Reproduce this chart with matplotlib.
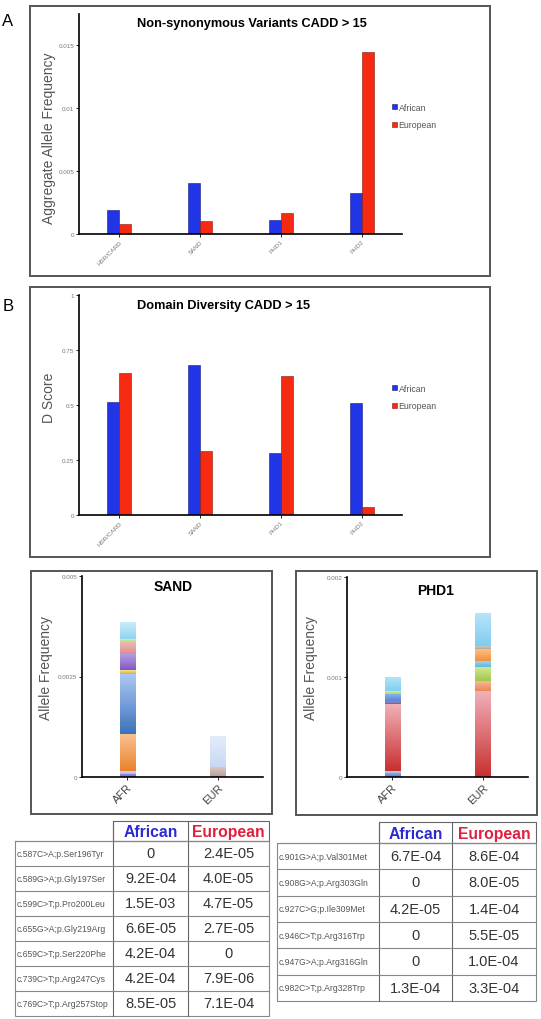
import numpy as np
import matplotlib
matplotlib.use("Agg")
import matplotlib.pyplot as plt
from matplotlib.patches import Rectangle
from matplotlib.colors import LinearSegmentedColormap

plt.rcParams['font.family'] = ['Liberation Sans', 'DejaVu Sans']

# ---------------- data ----------------
domains = ["HSR/CARD", "SAND", "PHD1", "PHD2"]
agg_afr = [0.0019, 0.00405, 0.0011, 0.0033]
agg_eur = [0.0008, 0.0010, 0.0017, 0.01445]
d_afr = [0.512, 0.68, 0.28, 0.51]
d_eur = [0.645, 0.29, 0.63, 0.035]
agg_ticks = [0, 0.005, 0.01, 0.015]
agg_ticklabels = ["0", "0.005", "0.01", "0.015"]
d_ticks = [0, 0.25, 0.5, 0.75, 1]
d_ticklabels = ["0", "0.25", "0.5", "0.75", "1"]

pops = ["AFR", "EUR"]
sand_afr_seg = [8.5e-5, 6.6e-5, 9.2e-4, 1.5e-3, 8.0e-5, 4.2e-4, 2.9e-4, 8.0e-5, 4.2e-4]
sand_eur_seg = [2.4e-4, 7.9e-4]
phd1_afr_seg = [4.2e-5, 2.1e-5, 6.7e-4, 2.7e-5, 7.3e-5, 3.0e-5, 1.4e-4]
phd1_eur_seg = [8.6e-4, 1.0e-4, 1.4e-4, 6.0e-5, 1.2e-4, 2.7e-5, 3.3e-4]
sand_ticks = [0, 0.0025, 0.005]
sand_ticklabels = ["0", "0.0025", "0.005"]
phd1_ticks = [0, 0.001, 0.002]
phd1_ticklabels = ["0", "0.001", "0.002"]

sand_variants = ["c.587C>A;p.Ser196Tyr", "c.589G>A;p.Gly197Ser", "c.599C>T;p.Pro200Leu",
                 "c.655G>A;p.Gly219Arg", "c.659C>T;p.Ser220Phe", "c.739C>T;p.Arg247Cys",
                 "c.769C>T;p.Arg257Stop"]
sand_tab_afr = ["0", "9.2E-04", "1.5E-03", "6.6E-05", "4.2E-04", "4.2E-04", "8.5E-05"]
sand_tab_eur = ["2.4E-05", "4.0E-05", "4.7E-05", "2.7E-05", "0", "7.9E-06", "7.1E-04"]
phd1_variants = ["c.901G>A;p.Val301Met", "c.908G>A;p.Arg303Gln", "c.927C>G;p.Ile309Met",
                 "c.946C>T;p.Arg316Trp", "c.947G>A;p.Arg316Gln", "c.982C>T;p.Arg328Trp"]
phd1_tab_afr = ["6.7E-04", "0", "4.2E-05", "0", "0", "1.3E-04"]
phd1_tab_eur = ["8.6E-04", "8.0E-05", "1.4E-04", "5.5E-05", "1.0E-04", "3.3E-04"]

# segment colours (bottom, top) for the gradient fills
sand_afr_col = [("#6a78d0", "#8a98e0"), ("#c0b8e0", "#d8d0f0"), ("#e8842c", "#fcc090"),
                ("#3a74bc", "#b0c8f4"), ("#d8b040", "#f0e090"), ("#8058c0", "#b8a0e8"),
                ("#d89090", "#f0b8b0"), ("#a8e090", "#d0f8c0"), ("#90d4f0", "#c8ecf8")]
sand_eur_col = [("#b8a098", "#d8c8c0"), ("#c8d8f4", "#e4ecfa")]
phd1_afr_col = [("#5878c8", "#a0b8e8"), ("#a8b8d8", "#c8d4ec"), ("#c83030", "#f0b0b8"),
                ("#7060a8", "#9888c8"), ("#5888d8", "#90b4f0"), ("#a8d860", "#d0f0a0"),
                ("#80d0f0", "#b0e4f8")]
phd1_eur_col = [("#c83030", "#f0b0b8"), ("#e88858", "#f8b890"), ("#a0c850", "#d0e890"),
                ("#60b8e0", "#98d4f0"), ("#f09040", "#fcc080"), ("#b0a8a0", "#d0c8c0"),
                ("#80ccf0", "#b8e4f8")]

W, H = 541, 1020
BLUE, RED = "#1f35e6", "#f52a10"

fig = plt.figure(figsize=(W / 100, H / 100), dpi=100)


def px_axes(l, t, r, b, **kw):
    return fig.add_axes([l / W, 1 - b / H, (r - l) / W, (b - t) / H], **kw)


def style_axes(ax):
    for s in ["top", "right"]:
        ax.spines[s].set_visible(False)
    for s in ["left", "bottom"]:
        ax.spines[s].set_linewidth(1.2)
    ax.tick_params(length=2, width=0.6, pad=1.5, labelsize=4.5, labelcolor="#777777")
    ax.set_facecolor("none")


def grouped(ax, afr, eur, ticks, ticklabels, ylim, leg_y):
    x = np.arange(len(domains)) + 0.5
    w = 0.15
    ax.bar(x - w / 2, afr, w, color=BLUE, edgecolor="#1a1a80", linewidth=0.4, label="African")
    ax.bar(x + w / 2, eur, w, color=RED, edgecolor="#801a10", linewidth=0.4, label="European")
    ax.set_xlim(0, len(domains))
    ax.set_ylim(*ylim)
    ax.set_yticks(ticks)
    ax.set_yticklabels(ticklabels)
    ax.set_xticks(x)
    ax.set_xticklabels(domains, rotation=45, ha="right", rotation_mode="anchor")
    style_axes(ax)
    ax.legend(loc="center left", bbox_to_anchor=(388 / W, 1 - leg_y / H),
              bbox_transform=fig.transFigure, frameon=False, fontsize=6.3,
              handlelength=0.5, handleheight=0.5, handletextpad=0.2,
              labelspacing=0.95, borderpad=0, labelcolor="#555555")


def grad_stack(ax, x, segs, cols, w):
    bottom = 0
    for v, (cb, ct) in zip(segs, cols):
        b = ax.bar(x, v, w, bottom=bottom, color=cb, linewidth=0)[0]
        cmap = LinearSegmentedColormap.from_list("g", [cb, ct])
        im = ax.imshow(np.linspace(0, 1, 64).reshape(-1, 1), cmap=cmap, aspect="auto",
                       origin="lower", extent=[x - w / 2, x + w / 2, bottom, bottom + v],
                       zorder=b.get_zorder() + 0.1, interpolation="bilinear")
        im.set_clip_path(b)
        bottom += v


def stacked(ax, afr_segs, afr_cols, eur_segs, eur_cols, ticks, ticklabels):
    grad_stack(ax, 0, afr_segs, afr_cols, 0.17)
    grad_stack(ax, 1, eur_segs, eur_cols, 0.17)
    ax.set_xlim(-0.5, 1.5)
    ax.set_ylim(ticks[0], ticks[-1])
    ax.set_yticks(ticks)
    ax.set_yticklabels(ticklabels)
    ax.set_xticks([0, 1])
    style_axes(ax)
    ax.set_xticklabels(pops, rotation=45, ha="right", rotation_mode="anchor",
                       fontsize=8, color="#444444")


# overlay for frames, titles, labels, tables
ov = fig.add_axes([0, 0, 1, 1])
ov.set_xlim(0, W)
ov.set_ylim(H, 0)
ov.axis("off")
ov.set_zorder(-1)

for (l, t, r, b) in [(30, 7, 490, 277), (30, 288, 490, 558), (31, 572, 272, 815), (296, 572, 537, 816)]:
    ov.add_patch(Rectangle((l, t), r - l, b - t, fill=False, edgecolor="#555555", linewidth=1.4))

ov.text(8, 21, "A", fontsize=12, ha="center", va="center")
ov.text(8, 307, "B", fontsize=12, ha="center", va="center")
ov.text(137, 24, "Non-synonymous Variants CADD > 15", fontsize=9.2, fontweight="bold", va="center")
ov.text(137, 306, "Domain Diversity CADD > 15", fontsize=9.2, fontweight="bold", va="center")
ov.text(173, 587, "SAND", fontsize=10, fontweight="bold", ha="center", va="center")
ov.text(436, 591, "PHD1", fontsize=10, fontweight="bold", ha="center", va="center")

ylab = dict(fontsize=10, color="#555555", rotation=90, ha="center", va="center")
ov.text(49, 138, "Aggregate Allele Frequency", **ylab)
ov.text(49, 398, "D Score", **ylab)
ov.text(46, 668, "Allele Frequency", **ylab)
ov.text(311, 668, "Allele Frequency", **ylab)

axA = px_axes(79, 15, 402, 235)
grouped(axA, agg_afr, agg_eur, agg_ticks, agg_ticklabels, (0, 0.0175), 117)
axB = px_axes(79, 296, 402, 516)
grouped(axB, d_afr, d_eur, d_ticks, d_ticklabels, (0, 1), 398)

axS = px_axes(82, 577, 263, 778)
stacked(axS, sand_afr_seg, sand_afr_col, sand_eur_seg, sand_eur_col, sand_ticks, sand_ticklabels)
axP = px_axes(347, 578, 528, 778)
stacked(axP, phd1_afr_seg, phd1_afr_col, phd1_eur_seg, phd1_eur_col, phd1_ticks, phd1_ticklabels)


def draw_table(cols_x, head_t, head_b, row_b, variants, afr, eur):
    x0, x1, x2, x3 = cols_x
    n = len(variants)
    rows = np.linspace(head_b, row_b, n + 1)
    ov.add_patch(Rectangle((x1, head_t), x3 - x1, head_b - head_t, fill=False,
                           edgecolor="#666666", linewidth=0.8))
    ov.plot([x2, x2], [head_t, row_b], color="#666666", lw=0.8)
    ov.text((x1 + x2) / 2, (head_t + head_b) / 2 + 1, "African", color="#2a2ad0",
            fontsize=11.3, fontweight="bold", ha="center", va="center")
    ov.text((x2 + x3) / 2, (head_t + head_b) / 2 + 1, "European", color="#e02040",
            fontsize=11.3, fontweight="bold", ha="center", va="center")
    ov.add_patch(Rectangle((x0, head_b), x3 - x0, row_b - head_b, fill=False,
                           edgecolor="#888888", linewidth=0.8))
    ov.plot([x1, x1], [head_t, row_b], color="#666666", lw=0.8)
    for i in range(n):
        ov.plot([x0, x3], [rows[i], rows[i]], color="#888888", lw=0.8)
        yc = (rows[i] + rows[i + 1]) / 2
        ov.text(x0 + 2, yc, variants[i], fontsize=6.2, color="#555555", va="center")
        ov.text((x1 + x2) / 2, yc, afr[i], fontsize=10.5, color="#333333", ha="center", va="center")
        ov.text((x2 + x3) / 2, yc, eur[i], fontsize=10.5, color="#333333", ha="center", va="center")


draw_table((15, 113, 188, 269), 822, 842, 1017, sand_variants, sand_tab_afr, sand_tab_eur)
draw_table((277, 379, 452, 536), 823, 844, 1002, phd1_variants, phd1_tab_afr, phd1_tab_eur)

fig.savefig("out.png", dpi=100)
